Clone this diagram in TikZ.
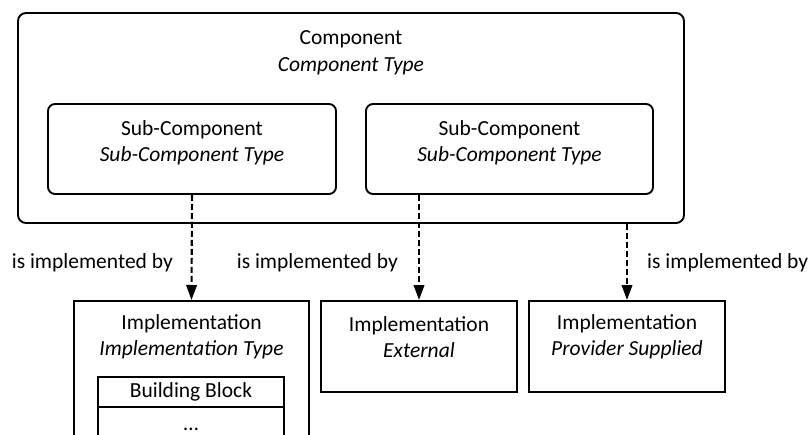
\documentclass[tikz,border=0pt]{standalone}
\usepackage{fontspec}
\setmainfont{Carlito}
\usetikzlibrary{arrows.meta}
\begin{document}
\begin{tikzpicture}[x=1pt,y=-1pt,
  box/.style={draw,line width=1.9pt,inner sep=0pt,rectangle},
  rbox/.style={box,rounded corners=7pt},
  txt/.style={align=center,font=\fontsize{21.5}{26.5}\selectfont,inner sep=0pt},
  lbl/.style={font=\fontsize{21.5}{26}\selectfont,inner sep=0pt},
  implarrow/.style={-{Triangle[length=15pt,width=10.5pt]},line width=2.1pt,dash pattern=on 6pt off 3pt}]
  \clip (0,0) rectangle (808,434);

  % component with its two sub-components
  \node[rbox,rounded corners=8pt,minimum width=666pt,minimum height=210pt] (comp) at (351,118) {};
  \node[txt] (compT) at (351,53) {Component\\\textit{Component Type}};
  \node[rbox,minimum width=288pt,minimum height=90pt] (subA) at (192,149) {};
  \node[txt] (subAT) at (192,143) {Sub-Component\\\textit{Sub-Component Type}};
  \node[rbox,minimum width=287pt,minimum height=90pt] (subB) at (509.5,149) {};
  \node[txt] (subBT) at (509.5,143) {Sub-Component\\\textit{Sub-Component Type}};

  % implementations
  \node[box,anchor=north,minimum width=235pt,minimum height=180pt] (implA) at (191.5,300) {};
  \node[txt] (implAT) at (191.5,337) {Implementation\\\textit{Implementation Type}};
  \node[box,anchor=north,minimum width=196pt,minimum height=91pt] (implB) at (419,300) {};
  \node[txt] (implBT) at (419,337) {Implementation\\\textit{External}};
  \node[box,anchor=north,minimum width=196pt,minimum height=91pt] (implC) at (627,300) {};
  \node[txt] (implCT) at (627,337) {Implementation\\\textit{Provider Supplied}};

  % building block list inside the first implementation
  \node[box,anchor=north,minimum width=186pt,minimum height=30pt] (bbHead) at (191,376) {};
  \node[lbl] (bbHeadT) at (191,392) {Building Block};
  \node[box,anchor=north,minimum width=186pt,minimum height=60pt] (bbBody) at (191,406) {};
  \node[lbl,anchor=base] (bbBodyT) at (191,430) {…};

  % realisation links
  \draw[implarrow] (subA.south) -- (implA.north);
  \draw[implarrow] (subB.south -| implB.north) -- (implB.north);
  \draw[implarrow] (comp.south -| implC.north) -- (implC.north);

  \node[lbl,anchor=east] (lblA) at (173,263) {is implemented by};
  \node[lbl,anchor=east] (lblB) at (398,263) {is implemented by};
  \node[lbl,anchor=west] (lblC) at (647,263) {is implemented by};
\end{tikzpicture}
\end{document}
